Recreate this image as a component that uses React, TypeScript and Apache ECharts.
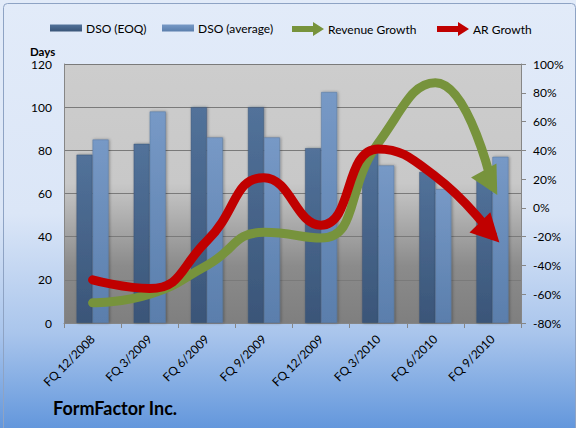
import React, { useEffect, useRef } from "react";
import * as echarts from "echarts";

const categories = ["FQ 12/2008", "FQ 3/2009", "FQ 6/2009", "FQ 9/2009", "FQ 12/2009", "FQ 3/2010", "FQ 6/2010", "FQ 9/2010"];
const dsoEOQ = [78, 83, 100, 100, 81, 80, 70, 68];
const dsoAverage = [85, 98, 86, 86, 107, 73, 62, 77];
const revenueGrowth = [-66, -60, -40, -17, -21, 45, 87, 15];
const arGrowth = [-50, -56, -23, 21, -12, 41, 22, -19];
const daysTicks = { min: 0, max: 120, interval: 20 };
const pctTicks = { min: -80, max: 100, interval: 20 };
const legendNames = ["DSO (EOQ)", "DSO (average)", "Revenue Growth", "AR Growth"];

const FONT = "Lato";
const GREEN = "#77933c";
const RED = "#c00000";

function arrowHead(color: string) {
  return (params: any, api: any) => {
    const p0 = api.coord([api.value(0), api.value(1)]);
    const p1 = api.coord([api.value(2), api.value(3)]);
    const dx = p1[0] - p0[0];
    const dy = p1[1] - p0[1];
    const len = Math.hypot(dx, dy) || 1;
    const ux = dx / len;
    const uy = dy / len;
    const nx = -uy;
    const ny = ux;
    const L = 28;
    const W = 14.5;
    const tip = [p1[0] + ux * 10, p1[1] + uy * 10];
    const bx = tip[0] - ux * L;
    const by = tip[1] - uy * L;
    return {
      type: "polygon",
      shape: { points: [tip, [bx + nx * W, by + ny * W], [bx - nx * W, by - ny * W]] },
      style: { fill: color },
    };
  };
}

const barIcon = "path://M0,0 L32,0 L32,7 L0,7 Z";
const arrowIcon = "path://M0,4 L21,4 L21,0 L32,7 L21,14 L21,10 L0,10 Z";
const legendLefts = [45, 157, 287, 432];
const legendIcons = [barIcon, barIcon, arrowIcon, arrowIcon];

export default function App() {
  const ref = useRef<HTMLDivElement>(null);
  useEffect(() => {
    if (!ref.current) return;
    const chart = echarts.init(ref.current, undefined, { renderer: "svg" });
    const n = categories.length;
    const option: any = {
      animation: false,
      backgroundColor: new echarts.graphic.LinearGradient(0, 0, 0, 1, [
        { offset: 0, color: "#e2ebf9" },
        { offset: 0.5, color: "#dbe6f7" },
        { offset: 0.78, color: "#a9c5ec" },
        { offset: 1, color: "#6397dc" },
      ]),
      textStyle: { fontFamily: FONT },
      legend: legendNames.map((name, i) => ({
        left: legendLefts[i],
        top: 17,
        itemWidth: 32,
        itemHeight: 14,
        itemGap: 0,
        selectedMode: false,
        textStyle: { fontFamily: FONT, fontSize: 12, color: "#000", padding: [0, 0, 0, -1] },
        itemStyle: { borderWidth: 0 },
        data: [{ name, icon: legendIcons[i] }],
      })),
      grid: {
        left: 64,
        right: 55,
        top: 64,
        bottom: 105,
        show: true,
        borderWidth: 0,
        backgroundColor: new echarts.graphic.LinearGradient(0, 0, 0, 1, [
          { offset: 0, color: "#cdcdcd" },
          { offset: 0.46, color: "#c8c8c8" },
          { offset: 0.78, color: "#8b8b8b" },
          { offset: 1, color: "#7f7f7f" },
        ]),
      },
      xAxis: {
        type: "category",
        data: categories,
        axisLine: { lineStyle: { color: "#868686" } },
        axisTick: { show: true, length: 5, lineStyle: { color: "#868686" } },
        axisLabel: { rotate: 45, fontFamily: FONT, fontSize: 12, color: "#000", margin: 14 },
      },
      yAxis: [
        {
          type: "value",
          ...daysTicks,
          axisLine: { show: true, lineStyle: { color: "#868686" } },
          axisTick: { show: false },
          axisLabel: { fontFamily: FONT, fontSize: 12, color: "#000", margin: 12 },
          splitLine: { lineStyle: { color: "#7a7a7a", width: 1 } },
        },
        {
          type: "value",
          ...pctTicks,
          position: "right",
          axisLine: { show: true, lineStyle: { color: "#868686" } },
          axisTick: { show: true, length: 5, lineStyle: { color: "#868686" } },
          axisLabel: { fontFamily: FONT, fontSize: 12, color: "#000", margin: 12, formatter: "{value}%" },
          splitLine: { show: false },
        },
      ],
      series: [
        {
          name: "DSO (EOQ)",
          type: "bar",
          data: dsoEOQ,
          barWidth: 16,
          barGap: "0%",
          itemStyle: {
            color: new echarts.graphic.LinearGradient(0, 0, 0, 1, [
              { offset: 0, color: "#52729a" },
              { offset: 1, color: "#3a5578" },
            ]),
            borderColor: "#3d5576",
            borderWidth: 0.5,
            shadowBlur: 3,
            shadowColor: "rgba(0,0,0,0.35)",
            shadowOffsetX: 1,
          },
        },
        {
          name: "DSO (average)",
          type: "bar",
          data: dsoAverage,
          barWidth: 16,
          barGap: "0%",
          itemStyle: {
            color: new echarts.graphic.LinearGradient(0, 0, 0, 1, [
              { offset: 0, color: "#7799c6" },
              { offset: 1, color: "#5a7eac" },
            ]),
            borderColor: "#56779f",
            borderWidth: 0.5,
            shadowBlur: 3,
            shadowColor: "rgba(0,0,0,0.35)",
            shadowOffsetX: 1,
          },
        },
        {
          name: "Revenue Growth",
          type: "line",
          yAxisIndex: 1,
          data: revenueGrowth,
          smooth: 0.5,
          symbol: "none",
          itemStyle: { color: GREEN },
          lineStyle: { color: GREEN, width: 9, cap: "round", join: "round" },
          z: 3,
        },
        {
          name: "AR Growth",
          type: "line",
          yAxisIndex: 1,
          data: arGrowth,
          smooth: 0.5,
          symbol: "none",
          itemStyle: { color: RED },
          lineStyle: { color: RED, width: 9, cap: "round", join: "round" },
          z: 4,
        },
        {
          name: "Revenue Growth arrow",
          type: "custom",
          yAxisIndex: 1,
          renderItem: arrowHead(GREEN),
          data: [[n - 2, revenueGrowth[n - 2], n - 1, revenueGrowth[n - 1]]],
          encode: { x: [0, 2], y: [1, 3] },
          z: 3,
          silent: true,
        },
        {
          name: "AR Growth arrow",
          type: "custom",
          yAxisIndex: 1,
          renderItem: arrowHead(RED),
          data: [[n - 2, arGrowth[n - 2], n - 1, arGrowth[n - 1]]],
          encode: { x: [0, 2], y: [1, 3] },
          z: 4,
          silent: true,
        },
      ],
      graphic: [
        {
          type: "rect",
          left: 1,
          top: 1,
          shape: { width: 572, height: 440, r: 4 },
          style: { fill: "none", stroke: "#8ea3c4", lineWidth: 1 },
          silent: true,
        },
        {
          type: "text",
          left: 30,
          top: 45,
          style: { text: "Days", font: `bold 11.5px ${FONT}`, fill: "#000" },
        },
        {
          type: "text",
          left: 53,
          top: 399,
          style: { text: "FormFactor Inc.", font: `bold 18px ${FONT}`, fill: "#000" },
        },
      ],
    };
    chart.setOption(option);
    return () => chart.dispose();
  }, []);
  return (
    <div
      ref={ref}
      style={{ position: "fixed", left: 0, top: 0, width: 576, height: 428 }}
    />
  );
}
